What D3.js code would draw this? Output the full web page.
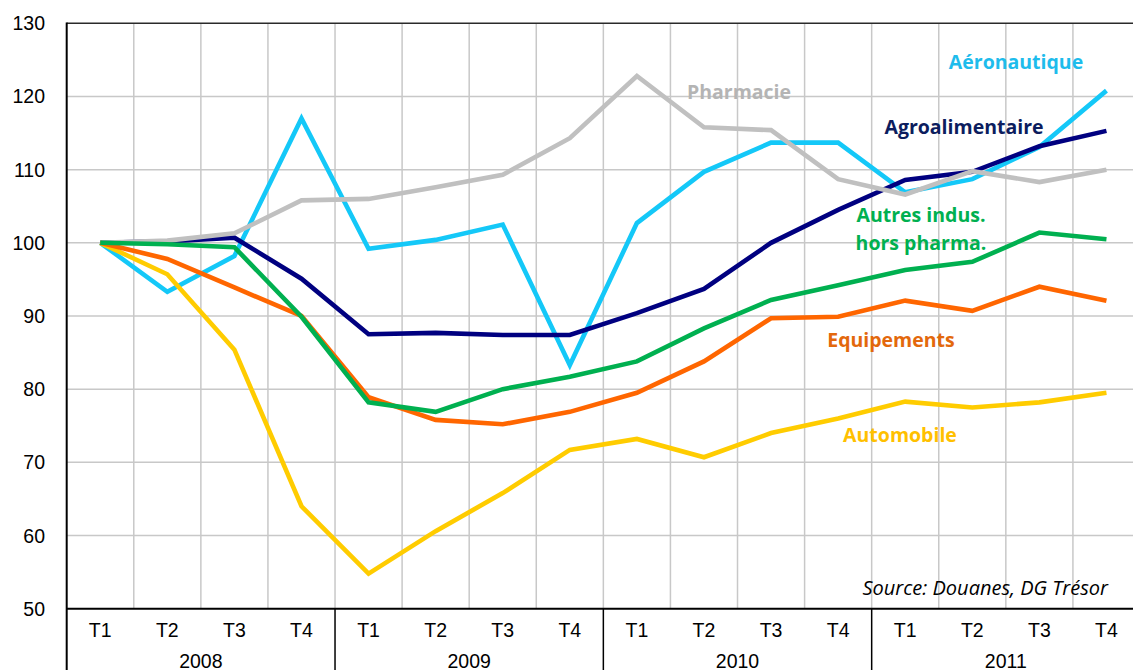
<!DOCTYPE html>
<html>
<head>
<meta charset="utf-8">
<script src="https://cdn.jsdelivr.net/npm/d3@7"></script>
<style>
  html, body { margin: 0; padding: 0; background: #fff; }
  svg { display: block; }
</style>
</head>
<body>
<svg id="chart" width="1133" height="670"></svg>
<script>
// Quarterly index of exports by sector (2008 T1 = 100)
const years = ["2008", "2009", "2010", "2011"];
const quarters = ["T1", "T2", "T3", "T4"];
const yTicks = [50, 60, 70, 80, 90, 100, 110, 120, 130];

const aeronautique    = [100, 93.3, 98.2, 117.0, 99.2, 100.4, 102.5, 83.3, 102.7, 109.7, 113.7, 113.7, 106.9, 108.7, 113.1, 120.8];
const agroalimentaire = [100, 100.2, 100.7, 95.1, 87.5, 87.7, 87.4, 87.4, 90.4, 93.7, 100.0, 104.5, 108.6, 109.7, 113.2, 115.3];
const pharmacie       = [100, 100.3, 101.3, 105.8, 106.0, 107.6, 109.3, 114.3, 122.8, 115.8, 115.4, 108.7, 106.6, 109.8, 108.3, 110.0];
const automobile      = [100, 95.7, 85.4, 64.0, 54.8, 60.6, 65.8, 71.7, 73.2, 70.7, 74.0, 76.0, 78.3, 77.5, 78.2, 79.5];
const equipements     = [100, 97.8, 93.9, 90.0, 78.9, 75.8, 75.2, 76.9, 79.5, 83.8, 89.7, 89.9, 92.1, 90.7, 94.0, 92.1];
const autresIndus     = [100, 99.8, 99.4, 89.9, 78.2, 76.9, 80.0, 81.7, 83.8, 88.3, 92.2, 94.2, 96.3, 97.4, 101.4, 100.5];

const seriesNames = ["Aéronautique", "Agroalimentaire", "Pharmacie", "Automobile", "Equipements", "Autres indus. hors pharma."];
const seriesValues = [aeronautique, agroalimentaire, pharmacie, automobile, equipements, autresIndus];
const lineColors = ["#14C8F8", "#000080", "#C0C0C0", "#FFCC00", "#FF6600", "#00B050"];
const labelColors = ["#1EBCEC", "#0C1D5E", "#B4B4B4", "#FFC000", "#E3680C", "#00B050"];
const labelLines = [["Aéronautique"], ["Agroalimentaire"], ["Pharmacie"], ["Automobile"], ["Equipements"], ["Autres indus.", "hors pharma."]];

// draw order: later series sit on top
const drawOrder = [0, 1, 2, 3, 4, 5];

const categories = [];
years.forEach(yr => quarters.forEach(q => categories.push(yr + "-" + q)));

const svg = d3.select("#chart");
const plotLeft = 66.7, plotRight = 1140, plotTop = 23.3, plotBottom = 608.7;

const x = d3.scaleBand().domain(categories).range([plotLeft, plotRight]).paddingInner(0).paddingOuter(0);
const y = d3.scaleLinear().domain([50, 130]).range([plotBottom, plotTop]);
const cx = c => x(c) + x.bandwidth() / 2;

// horizontal gridlines
svg.append("g").selectAll("line")
  .data(yTicks.filter(t => t > 50 && t < 130))
  .join("line")
  .attr("x1", plotLeft).attr("x2", 1133)
  .attr("y1", d => y(d)).attr("y2", d => y(d))
  .attr("stroke", "#C8C8C8").attr("stroke-width", 1.5);

// vertical gridlines at category boundaries
svg.append("g").selectAll("line")
  .data(categories.slice(1))
  .join("line")
  .attr("x1", d => x(d)).attr("x2", d => x(d))
  .attr("y1", plotTop).attr("y2", plotBottom)
  .attr("stroke", "#C8C8C8").attr("stroke-width", 1.5);

// top frame
svg.append("line")
  .attr("x1", plotLeft).attr("x2", 1133).attr("y1", plotTop).attr("y2", plotTop)
  .attr("stroke", "#2A2A2A").attr("stroke-width", 1.6);

// series lines
const line = d3.line().x((d, i) => cx(categories[i])).y(d => y(d));
svg.append("g").selectAll("path")
  .data(drawOrder)
  .join("path")
  .attr("d", i => line(seriesValues[i]))
  .attr("fill", "none")
  .attr("stroke", i => lineColors[i])
  .attr("stroke-width", 4.6)
  .attr("stroke-linejoin", "miter")
  .attr("stroke-linecap", "butt");

// y axis
const yAxis = svg.append("g");
yAxis.append("line")
  .attr("x1", plotLeft).attr("x2", plotLeft).attr("y1", plotTop - 0.8).attr("y2", 670)
  .attr("stroke", "#000").attr("stroke-width", 2);
yAxis.selectAll("text")
  .data(yTicks)
  .join("text")
  .attr("x", 45)
  .attr("y", d => y(d))
  .attr("dy", "0.36em")
  .attr("text-anchor", "end")
  .attr("font-family", "Liberation Sans, Arial, sans-serif")
  .attr("font-size", 19.5)
  .attr("fill", "#000")
  .text(d => d);

// x axis: quarters then years
const xAxis = svg.append("g");
xAxis.append("line")
  .attr("x1", plotLeft).attr("x2", 1133).attr("y1", plotBottom).attr("y2", plotBottom)
  .attr("stroke", "#000").attr("stroke-width", 2);
xAxis.selectAll("line.sep")
  .data(years.slice(1))
  .join("line")
  .attr("class", "sep")
  .attr("x1", d => x(d + "-T1")).attr("x2", d => x(d + "-T1"))
  .attr("y1", plotBottom).attr("y2", 670)
  .attr("stroke", "#000").attr("stroke-width", 1.5);
xAxis.selectAll("text.q")
  .data(categories)
  .join("text")
  .attr("class", "q")
  .attr("x", d => cx(d))
  .attr("y", 636.7)
  .attr("text-anchor", "middle")
  .attr("font-family", "Liberation Sans, Arial, sans-serif")
  .attr("font-size", 19.5)
  .attr("fill", "#000")
  .text(d => d.split("-")[1]);
xAxis.selectAll("text.yr")
  .data(years)
  .join("text")
  .attr("class", "yr")
  .attr("x", d => (x(d + "-T1") + x(d + "-T4") + x.bandwidth()) / 2)
  .attr("y", 667.5)
  .attr("text-anchor", "middle")
  .attr("font-family", "Liberation Sans, Arial, sans-serif")
  .attr("font-size", 19.5)
  .attr("fill", "#000")
  .text(d => d);

// series labels
const labelPos = [[1016, 62], [964, 127], [739, 92], [900, 435], [891, 340], [921, 215]];
const labels = svg.append("g")
  .attr("font-family", "'Open Sans', Lato, sans-serif")
  .attr("font-weight", "bold")
  .attr("font-size", 19.5)
  .attr("text-anchor", "middle");
seriesNames.forEach((name, i) => {
  const t = labels.append("text")
    .attr("x", labelPos[i][0])
    .attr("y", labelPos[i][1])
    .attr("fill", labelColors[i]);
  labelLines[i].forEach((ln, k) => {
    t.append("tspan")
      .attr("x", labelPos[i][0])
      .attr("dy", k === 0 ? "0.35em" : "1.45em")
      .text(ln);
  });
});

// source note
svg.append("text")
  .attr("x", 1108).attr("y", 595)
  .attr("text-anchor", "end")
  .attr("font-family", "'Open Sans', Lato, sans-serif")
  .attr("font-style", "italic")
  .attr("font-size", 20)
  .attr("fill", "#000")
  .text("Source: Douanes, DG Trésor");
</script>
</body>
</html>
